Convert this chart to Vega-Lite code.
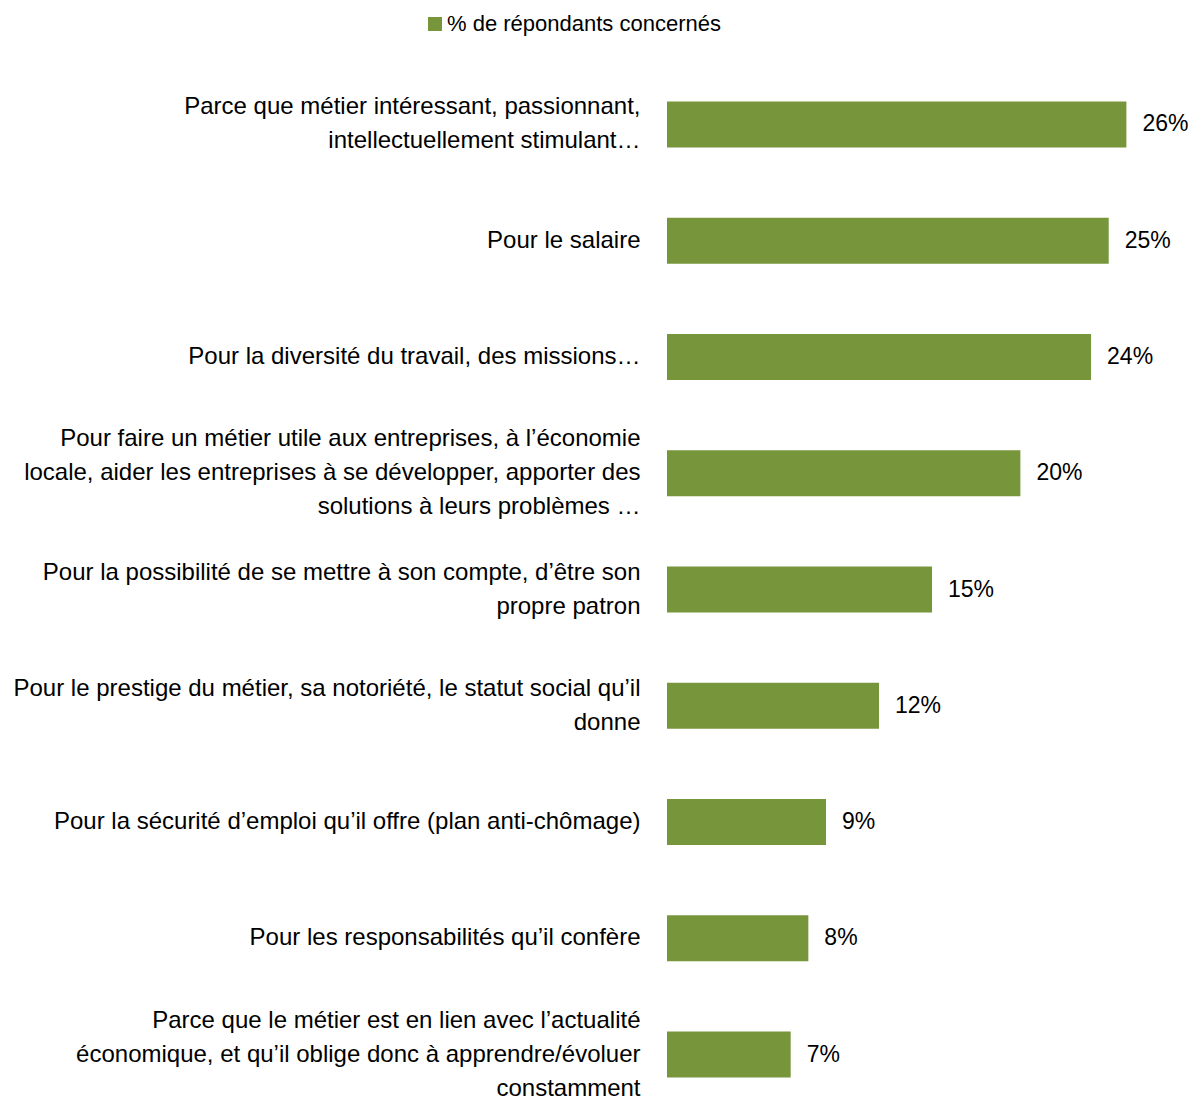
{
  "$schema": "https://vega.github.io/schema/vega-lite/v6.json",
  "width": 523,
  "height": 1011,
  "autosize": {"type": "none"},
  "padding": {"left": 667, "top": 84, "right": 1, "bottom": 4},
  "background": "white",
  "config": {
    "view": {"stroke": null},
    "font": "Liberation Sans, Arial, sans-serif"
  },
  "data": {
    "values": [
      {"reason": "Parce que métier intéressant, passionnant,|intellectuellement stimulant…", "share": 0.26},
      {"reason": "Pour le salaire", "share": 0.25},
      {"reason": "Pour la diversité du travail, des missions…", "share": 0.24},
      {"reason": "Pour faire un métier utile aux entreprises, à l’économie|locale, aider les entreprises à se développer, apporter des|solutions à leurs problèmes …", "share": 0.20},
      {"reason": "Pour la possibilité de se mettre à son compte, d’être son|propre patron", "share": 0.15},
      {"reason": "Pour le prestige du métier, sa notoriété, le statut social qu’il|donne", "share": 0.12},
      {"reason": "Pour la sécurité d’emploi qu’il offre (plan anti-chômage)", "share": 0.09},
      {"reason": "Pour les responsabilités qu’il confère", "share": 0.08},
      {"reason": "Parce que le métier est en lien avec l’actualité|économique, et qu’il oblige donc à apprendre/évoluer|constamment", "share": 0.07}
    ]
  },
  "encoding": {
    "y": {
      "field": "reason",
      "type": "nominal",
      "sort": null,
      "scale": {"paddingInner": 0.604, "paddingOuter": 0.15},
      "axis": {
        "title": null,
        "domain": false,
        "ticks": false,
        "labelExpr": "split(datum.value, '|')",
        "labelFont": "Liberation Sans, Arial, sans-serif",
        "labelFontSize": 24,
        "labelLineHeight": 34,
        "labelColor": "#000000",
        "labelPadding": 27,
        "labelLimit": 0,
        "labelOffset": {
          "condition": [
            {"test": "length(split(datum.value, '|')) == 3", "value": -34},
            {"test": "length(split(datum.value, '|')) == 2", "value": -17}
          ],
          "value": 0
        }
      }
    },
    "x": {
      "field": "share",
      "type": "quantitative",
      "scale": {"domain": [0, 0.296], "nice": false},
      "axis": null
    }
  },
  "layer": [
    {
      "mark": {"type": "bar", "color": "#77963B"},
      "encoding": {
        "color": {
          "datum": "% de répondants concernés",
          "scale": {"range": ["#77963B"]},
          "legend": {
            "title": null,
            "orient": "none",
            "legendX": -243,
            "legendY": -71,
            "symbolType": "square",
            "symbolSize": 196,
            "symbolStrokeWidth": 0,
            "labelFont": "Liberation Sans, Arial, sans-serif",
            "labelFontSize": 22,
            "labelColor": "#000000",
            "labelOffset": 1,
            "labelLimit": 0,
            "padding": 0
          }
        }
      }
    },
    {
      "mark": {
        "type": "text",
        "align": "left",
        "baseline": "middle",
        "dx": 16,
        "fontSize": 23,
        "font": "Liberation Sans, Arial, sans-serif",
        "color": "#000000"
      },
      "encoding": {
        "text": {"field": "share", "type": "quantitative", "format": ".0%"}
      }
    }
  ]
}
